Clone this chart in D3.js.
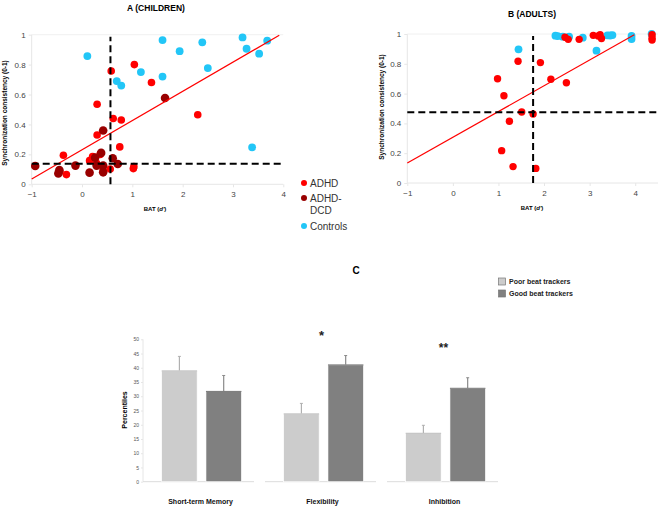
<!DOCTYPE html>
<html>
<head>
<meta charset="utf-8">
<script src="https://cdn.jsdelivr.net/npm/d3@7"></script>
<style>
  body { margin: 0; background: #fff; }
  svg { font-family: "Liberation Sans", Arial, sans-serif; }
</style>
</head>
<body>
<svg id="chart" width="660" height="507"></svg>
<script>
// ---- panel A (children): [BAT d', sync consistency]
const childrenADHD = [
  [0.58, 0.757], [1.04, 0.80], [1.38, 0.68], [0.30, 0.535], [0.62, 0.44],
  [0.78, 0.43], [2.30, 0.465], [0.30, 0.33], [0.75, 0.25], [-0.37, 0.194],
  [-0.31, 0.065], [0.15, 0.158], [0.21, 0.185], [0.29, 0.14], [0.42, 0.096],
  [0.56, 0.102], [1.03, 0.118], [1.02, 0.105], [-0.44, 0.085], [0.36, 0.20]
]
const childrenDCD = [
  [-0.93, 0.122], [-0.47, 0.073], [-0.45, 0.096], [-0.13, 0.125], [0.15, 0.078],
  [0.26, 0.178], [0.38, 0.21], [0.42, 0.36], [0.29, 0.125], [0.42, 0.125],
  [0.61, 0.174], [0.71, 0.136], [1.65, 0.577], [0.42, 0.08]
]
const childrenControls = [
  [0.106, 0.857], [1.60, 0.964], [1.94, 0.89], [2.39, 0.949], [3.19, 0.982],
  [3.27, 0.906], [3.52, 0.873], [3.68, 0.96], [2.50, 0.777], [1.17, 0.75],
  [1.60, 0.72], [0.69, 0.69], [0.78, 0.66], [3.38, 0.247]
]
const childrenFit = [[-1, 0.036], [3.92, 0.996]]
const childrenCut = {x: 0.565, y: 0.138}

// ---- panel B (adults)
const adultsADHD = [
  [0.98, 0.70], [1.12, 0.586], [1.24, 0.414], [1.07, 0.217], [1.32, 0.11],
  [1.43, 0.817], [1.51, 0.477], [1.76, 0.463], [1.82, 0.098], [1.92, 0.808],
  [2.15, 0.696], [2.49, 0.673], [2.46, 0.978], [2.53, 0.964], [2.77, 0.964],
  [3.08, 0.991], [3.19, 0.987], [3.23, 0.995], [3.26, 0.97], [4.37, 0.995],
  [4.37, 0.973], [4.37, 0.96]
]
const adultsControls = [
  [1.44, 0.897], [2.25, 0.989], [2.41, 0.982], [2.55, 0.982], [2.85, 0.975],
  [3.15, 0.888], [3.39, 0.991], [3.50, 0.993], [3.92, 0.987], [3.92, 0.966],
  [4.36, 1.0], [2.30, 0.986], [3.45, 0.99]
]
const adultsFit = [[-1, 0.134], [3.98, 0.995]]
const adultsCut = {x: 1.76, y: 0.474}

const xTicks = [-1, 0, 1, 2, 3, 4]
const yTicks = [0, 0.2, 0.4, 0.6, 0.8, 1]

// ---- panel C (bars)
const domains = ["Short-term Memory", "Flexibility", "Inhibition"]
const groups = ["Poor beat trackers", "Good beat trackers"]
const poorMean = [38.9, 23.8, 17.0]
const poorErr = [44.0, 27.5, 19.8]
const goodMean = [31.7, 41.0, 32.8]
const goodErr = [37.3, 44.3, 36.5]
const signif = ["", "*", "**"]
const barTicks = [0, 5, 10, 15, 20, 25, 30, 35, 40, 45, 50]

const RED = "#ff0000", DARK = "#990000", BLUE = "#22c6f7"
const svg = d3.select("#chart")

function scatterPanel(opt) {
  const x = d3.scaleLinear().domain(opt.xDomain).range(opt.xRange)
  const y = d3.scaleLinear().domain([0, 1]).range(opt.yRange)
  const g = svg.append("g")

  // faint frame: left, bottom, top
  g.append("line").attr("x1", x.range()[0]).attr("x2", x.range()[0])
    .attr("y1", y(0)).attr("y2", y(1)).attr("stroke", "#e6e6e6")
  g.append("line").attr("x1", x.range()[0]).attr("x2", x.range()[1])
    .attr("y1", y(0)).attr("y2", y(0)).attr("stroke", "#e6e6e6")
  g.append("line").attr("x1", x.range()[0]).attr("x2", x.range()[1])
    .attr("y1", y(1)).attr("y2", y(1)).attr("stroke", "#f0f0f0")

  const ax = g.append("g").attr("transform", `translate(0,${y(0)})`)
    .call(d3.axisBottom(x).tickValues(xTicks).tickSize(3).tickPadding(4).tickFormat(d3.format("d")))
  const ay = g.append("g").attr("transform", `translate(${x.range()[0]},0)`)
    .call(d3.axisLeft(y).tickValues(yTicks).tickSize(3).tickPadding(3).tickFormat(d => d === 0 || d === 1 ? d : d.toFixed(1)))
  for (const a of [ax, ay]) {
    a.select(".domain").remove()
    a.selectAll(".tick line").attr("stroke", "#e6e6e6")
    a.selectAll(".tick text").attr("fill", "#444").style("font-size", "8px")
  }

  opt.series.forEach(s => {
    g.selectAll(null).data(s.data).enter().append("circle")
      .attr("cx", d => x(d[0])).attr("cy", d => y(d[1]))
      .attr("r", s.r).attr("fill", s.color)
  })

  g.append("line")
    .attr("x1", x(opt.fit[0][0])).attr("y1", y(opt.fit[0][1]))
    .attr("x2", x(opt.fit[1][0])).attr("y2", y(opt.fit[1][1]))
    .attr("stroke", RED).attr("stroke-width", 1.2)

  g.append("line")
    .attr("x1", x(opt.cut.x)).attr("x2", x(opt.cut.x))
    .attr("y1", y(0)).attr("y2", y(1) + 2)
    .attr("stroke", "#000").attr("stroke-width", 2).attr("stroke-dasharray", "7,4")
  g.append("line")
    .attr("x1", x.range()[0]).attr("x2", x.range()[1])
    .attr("y1", y(opt.cut.y)).attr("y2", y(opt.cut.y))
    .attr("stroke", "#000").attr("stroke-width", 2).attr("stroke-dasharray", "7,4")

  svg.append("text").attr("x", opt.title[1]).attr("y", opt.title[2])
    .attr("text-anchor", "middle").style("font-size", "8.5px").style("font-weight", "bold")
    .text(opt.title[0])
  svg.append("text").attr("x", opt.xlab[0]).attr("y", opt.xlab[1])
    .attr("text-anchor", "middle").style("font-size", "6px").style("font-weight", "bold")
    .html('BAT (<tspan font-style="italic">d\'</tspan>)')
  svg.append("text")
    .attr("transform", `translate(${opt.ylab[0]},${opt.ylab[1]}) rotate(-90)`)
    .attr("text-anchor", "middle").style("font-size", "6.5px").style("font-weight", "bold")
    .text("Synchronization consistency (0-1)")
}

scatterPanel({
  xDomain: [-1, 4], xRange: [31.7, 283.3], yRange: [184.3, 34.7],
  series: [
    {data: childrenControls, color: BLUE, r: 3.9},
    {data: childrenADHD, color: RED, r: 3.8},
    {data: childrenDCD, color: DARK, r: 4.3}
  ],
  fit: childrenFit, cut: childrenCut,
  title: ["A (CHILDREN)", 156, 11], xlab: [155, 211], ylab: [7, 113]
})

scatterPanel({
  xDomain: [-1, 4.5], xRange: [407.3, 658], yRange: [183, 34],
  series: [
    {data: adultsControls, color: BLUE, r: 3.9},
    {data: adultsADHD, color: RED, r: 3.7}
  ],
  fit: adultsFit, cut: adultsCut,
  title: ["B (ADULTS)", 532, 17], xlab: [532, 210], ylab: [384, 107]
})

// legend for A
const legA = [["ADHD", RED], ["ADHD-", DARK], ["Controls", BLUE]]
const legY = [183, 198, 226]
legA.forEach((d, i) => {
  svg.append("circle").attr("cx", 304).attr("cy", legY[i]).attr("r", 3).attr("fill", d[1])
  svg.append("text").attr("x", 310).attr("y", legY[i] + 3.5)
    .style("font-size", "10px").attr("fill", "#333").text(d[0])
})
svg.append("text").attr("x", 310).attr("y", 213.5)
  .style("font-size", "10px").attr("fill", "#333").text("DCD")

// ---- panel C
svg.append("text").attr("x", 356).attr("y", 274).attr("text-anchor", "middle")
  .style("font-size", "10px").style("font-weight", "bold").text("C")

const colors = d3.scaleOrdinal().domain(groups).range(["#cccccc", "#808080"])
const errColors = d3.scaleOrdinal().domain(groups).range(["#b0b0b0", "#8a8a8a"])
groups.forEach((grp, i) => {
  const ly = 281.5 + i * 12
  svg.append("rect").attr("x", 498.5).attr("y", ly - 3.5).attr("width", 7).attr("height", 7)
    .attr("fill", colors(grp)).attr("stroke", "#777").attr("stroke-width", 0.7)
  svg.append("text").attr("x", 509).attr("y", ly + 2.5)
    .style("font-size", "7px").style("font-weight", "bold").attr("fill", "#222").text(grp)
})

const yC = d3.scaleLinear().domain([0, 50]).range([481.7, 339.3])
const x0 = d3.scaleBand().domain(domains).range([143, 498]).paddingInner(0.09)
const x1 = d3.scaleBand().domain(groups).range([18.7, 98.4]).paddingInner(0.2)

svg.append("line").attr("x1", 143).attr("x2", 143).attr("y1", yC(0)).attr("y2", yC(50))
  .attr("stroke", "#e6e6e6")
const ayC = svg.append("g").attr("transform", "translate(143,0)")
  .call(d3.axisLeft(yC).tickValues(barTicks).tickSize(2).tickPadding(2))
ayC.select(".domain").remove()
ayC.selectAll(".tick line").attr("stroke", "#e6e6e6")
ayC.selectAll(".tick text").attr("fill", "#555").style("font-size", "5px")

svg.append("text").attr("transform", `translate(127,410) rotate(-90)`)
  .attr("text-anchor", "middle").style("font-size", "7px").style("font-weight", "bold")
  .text("Percentiles")

const barRows = domains.map((dm, i) => ({
  dm, i,
  vals: [
    {grp: groups[0], mean: poorMean[i], err: poorErr[i]},
    {grp: groups[1], mean: goodMean[i], err: goodErr[i]}
  ]
}))

const gGroup = svg.selectAll("g.grp").data(barRows).enter().append("g")
  .attr("class", "grp").attr("transform", d => `translate(${x0(d.dm)},0)`)

gGroup.append("line").attr("x1", 0).attr("x2", x0.bandwidth())
  .attr("y1", yC(0)).attr("y2", yC(0)).attr("stroke", "#dcdcdc")

const bar = gGroup.selectAll("g.bar").data(d => d.vals).enter().append("g").attr("class", "bar")
bar.append("line")
  .attr("x1", d => x1(d.grp) + x1.bandwidth() / 2).attr("x2", d => x1(d.grp) + x1.bandwidth() / 2)
  .attr("y1", d => yC(d.mean)).attr("y2", d => yC(d.err))
  .attr("stroke", d => errColors(d.grp)).attr("stroke-width", 1.2)
bar.append("line")
  .attr("x1", d => x1(d.grp) + x1.bandwidth() / 2 - 1.5).attr("x2", d => x1(d.grp) + x1.bandwidth() / 2 + 1.5)
  .attr("y1", d => yC(d.err)).attr("y2", d => yC(d.err))
  .attr("stroke", d => errColors(d.grp)).attr("stroke-width", 1)
bar.append("rect")
  .attr("x", d => x1(d.grp)).attr("width", x1.bandwidth())
  .attr("y", d => yC(d.mean)).attr("height", d => yC(0) - yC(d.mean))
  .attr("fill", d => colors(d.grp)).attr("stroke", "#ffffff").attr("stroke-width", 0.6)
bar.append("line")
  .attr("x1", d => x1(d.grp)).attr("x2", d => x1(d.grp) + x1.bandwidth())
  .attr("y1", d => yC(d.mean)).attr("y2", d => yC(d.mean))
  .attr("stroke", d => d3.color(colors(d.grp)).darker(0.25)).attr("stroke-width", 1)

gGroup.append("text").attr("x", d => x0.bandwidth() / 2 + 2).attr("y", 503.5)
  .attr("text-anchor", "middle").style("font-size", "7px").style("font-weight", "bold")
  .attr("fill", "#111").text(d => d.dm)

gGroup.append("text").attr("x", d => x0.bandwidth() / 2 + 1)
  .attr("y", d => d.i === 1 ? 340 : 352)
  .attr("text-anchor", "middle").style("font-size", d => d.i === 1 ? "13px" : "12px")
  .style("font-weight", "bold").attr("fill", "#222").text(d => signif[d.i])
</script>
</body>
</html>
